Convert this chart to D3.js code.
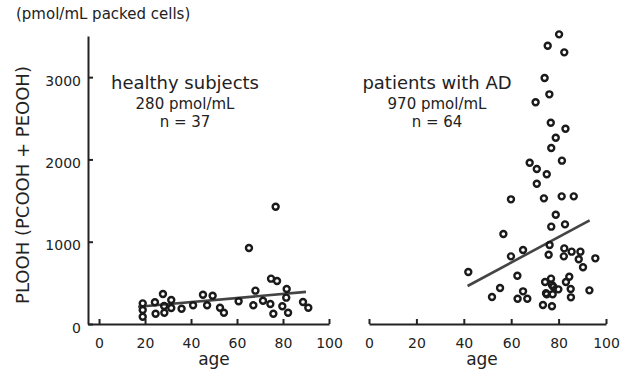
<!DOCTYPE html>
<html>
<head>
<meta charset="utf-8">
<script src="https://cdn.jsdelivr.net/npm/d3@7"></script>
<style>
  body { margin: 0; background: #fff; }
  svg text { font-family: "DejaVu Sans", Verdana, sans-serif; fill: #222; }
</style>
</head>
<body>
<div id="chart"></div>
<script>
// healthy subjects: [age, PLOOH pmol/mL]
const healthyPoints = [
  [76.8, 1425], [65.2, 923], [74.8, 551], [77.4, 522], [81.6, 425], [81.4, 320],
  [79.7, 215], [82.2, 137], [68, 405], [71.3, 283], [74.5, 243], [75.8, 125],
  [67.1, 227], [60.7, 276], [88.7, 267], [91, 198], [49.4, 344], [45.2, 356],
  [47, 227], [52.6, 198], [54.3, 137], [40.9, 227], [35.9, 186], [31.4, 292],
  [31.4, 194], [27.8, 364], [28.3, 219], [28.4, 137], [24.3, 264], [24.6, 125],
  [19, 251], [19, 170], [19, 89]
];
// patients with AD
const adPoints = [
  [80.2, 3520], [75.4, 3382], [82.4, 3301], [74.1, 2989], [76.1, 2791], [70.3, 2694],
  [76.7, 2446], [82.9, 2373], [78.8, 2264], [76.9, 2138], [81.4, 1985], [67.8, 1960],
  [70.8, 1883], [75, 1819], [70.8, 1705], [59.9, 1515], [73.8, 1527], [81.3, 1551],
  [86.4, 1551], [78.8, 1328], [76.9, 1183], [82.7, 1211], [56.7, 1094], [76.2, 960],
  [75.8, 842], [65, 899], [59.9, 822], [82.4, 919], [82.2, 822], [85.5, 879],
  [89.2, 879], [88.5, 786], [95.5, 798], [90.3, 689], [41.9, 632], [62.6, 587],
  [84.5, 575], [83.1, 510], [74.3, 510], [76.8, 551], [77.2, 474], [77.8, 453],
  [74.7, 373], [55.3, 437], [65, 397], [75, 361], [77.5, 361], [79.9, 421],
  [85.1, 425], [93, 409], [85.2, 324], [51.9, 328], [62.7, 307], [66.8, 307],
  [73.4, 231], [77.2, 215]
];
// regression lines (endpoints)
const healthyFit = [[17, 210], [90, 390]];
const adFit = [[41.6, 462], [93.1, 1260]];

const yTicks = [0, 1000, 2000, 3000];
const xTicks = [0, 20, 40, 60, 80, 100];
const healthyLabels = ['healthy subjects', '280 pmol/mL', 'n = 37'];
const adLabels = ['patients with AD', '970 pmol/mL', 'n = 64'];

const width = 627, height = 375;
const ink = '#222';

const svg = d3.select('#chart').append('svg')
  .attr('width', width)
  .attr('height', height);

const y = d3.scaleLinear().domain([0, 3500]).range([324, 36]);
const xLeft = d3.scaleLinear().domain([-4.8, 100]).range([88, 329]);
const xRight = d3.scaleLinear().domain([0, 100]).range([369, 606]);

function styleAxis(g) {
  g.selectAll('path, line').attr('stroke', ink).attr('stroke-width', 2);
  g.selectAll('text').attr('font-size', 14).attr('fill', '#333')
    .style('font-family', '"DejaVu Sans", Verdana, sans-serif');
}

// y axis
svg.append('g')
  .attr('transform', 'translate(88,0)')
  .call(d3.axisLeft(y).tickValues(yTicks).tickFormat(d3.format('d'))
    .tickSizeInner(-5).tickSizeOuter(0).tickPadding(7))
  .call(g => g.selectAll('text').attr('dy', '0.58em'))
  .call(styleAxis);

// x axes
function xAxis(x) {
  svg.append('g')
    .attr('transform', 'translate(0,324)')
    .call(d3.axisBottom(x).tickValues(xTicks).tickSizeInner(-5).tickSizeOuter(0).tickPadding(14))
    .call(styleAxis);
}
xAxis(xLeft);
xAxis(xRight);

// axis titles
svg.append('text')
  .attr('x', 16).attr('y', 19)
  .attr('font-size', 15)
  .text('(pmol/mL packed cells)');

svg.append('text')
  .attr('transform', 'translate(29,185) rotate(-90)')
  .attr('text-anchor', 'middle')
  .attr('font-size', 18)
  .text('PLOOH (PCOOH + PEOOH)');

svg.append('text').attr('x', 214).attr('y', 365).attr('text-anchor', 'middle')
  .attr('font-size', 17).text('age');
svg.append('text').attr('x', 482).attr('y', 365).attr('text-anchor', 'middle')
  .attr('font-size', 17).text('age');

// group labels
function groupLabel(lines, cx) {
  const ys = [89, 109, 127];
  const sizes = [18, 15, 15];
  lines.forEach((t, i) => {
    svg.append('text')
      .attr('x', cx).attr('y', ys[i])
      .attr('text-anchor', 'middle')
      .attr('font-size', sizes[i])
      .text(t);
  });
}
groupLabel(healthyLabels, 185);
groupLabel(adLabels, 437);

// fit lines
function drawFit(fit, x) {
  const line = d3.line().x(d => x(d[0])).y(d => y(d[1]));
  svg.append('path')
    .datum(fit)
    .attr('fill', 'none')
    .attr('stroke', '#444')
    .attr('stroke-width', 2.6)
    .attr('d', line);
}
drawFit(healthyFit, xLeft);
drawFit(adFit, xRight);

// points
function drawDots(data, x) {
  svg.append('g').selectAll('circle')
    .data(data)
    .enter()
    .append('circle')
    .attr('cx', d => x(d[0]))
    .attr('cy', d => y(d[1]))
    .attr('r', 3)
    .attr('fill', 'none')
    .attr('stroke', '#1a1a1a')
    .attr('stroke-width', 2.4);
}
drawDots(healthyPoints, xLeft);
drawDots(adPoints, xRight);
</script>
</body>
</html>
